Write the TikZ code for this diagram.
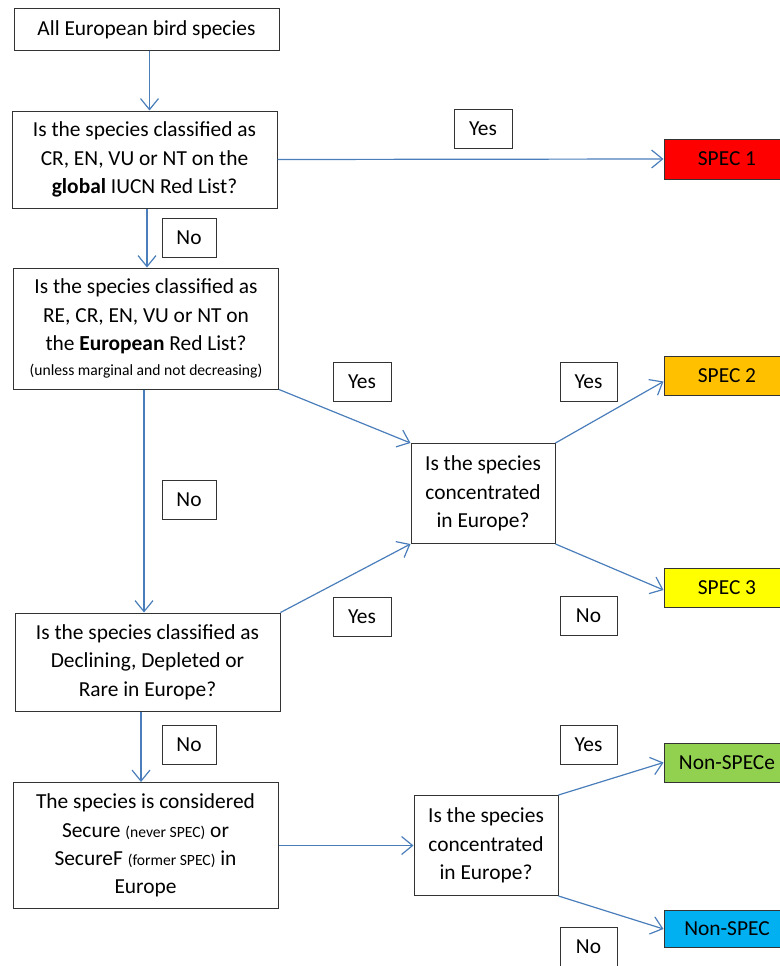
\documentclass[tikz,border=0pt]{standalone}
\usepackage{fontspec}
\setmainfont{Carlito}
\usetikzlibrary{arrows.meta,positioning}

\definecolor{flowblue}{HTML}{4A7EBB}
\definecolor{specred}{HTML}{FF0000}
\definecolor{specorange}{HTML}{FFC000}
\definecolor{specyellow}{HTML}{FFFF00}
\definecolor{specgreen}{HTML}{92D050}
\definecolor{specblue}{HTML}{00B0F0}

\newcommand{\smalltxt}[1]{{\fontsize{15.6}{20}\selectfont #1}}

\begin{document}
\begin{tikzpicture}[x=1pt, y=-1pt,
    font=\fontsize{21.4}{28.4}\selectfont,
    qbox/.style = {draw=black!80, line width=1pt, align=center, inner sep=0pt, minimum width=265pt},
    cbox/.style = {draw=black!80, line width=1pt, align=center, inner sep=0pt, minimum width=144pt, minimum height=100pt},
    tag/.style = {draw=black!80, line width=1pt, inner sep=0pt, minimum width=57pt, minimum height=39pt},
    cat/.style = {draw=black!80, line width=1pt, inner sep=0pt, minimum width=126pt, minimum height=39pt},
    flow/.style = {draw=flowblue, line width=1.2pt, -{Straight Barb[length=11pt,width=18pt]}}]

  \useasboundingbox (0,0) rectangle (779,966);

  % left column
  \node[qbox, minimum height=42pt] (all) at (146.5,29.5) {All European bird species};
  \node[qbox, minimum height=97pt] (glob) at (144.5,159.5)
    {Is the species classified as\\ CR, EN, VU or NT on the\\ \textbf{global} IUCN Red List?};
  \node[qbox, minimum height=121pt] (euro) at (146,328.5)
    {Is the species classified as\\ RE, CR, EN, VU or NT on\\ the \textbf{European} Red List?\\[-4pt]
     \smalltxt{(unless marginal and not decreasing)}};
  \node[qbox, minimum height=98pt] (decl) at (147.5,662)
    {Is the species classified as\\ Declining, Depleted or\\ Rare in Europe?};
  \node[qbox, minimum height=126pt] (secure) at (145.5,845.5)
    {The species is considered\\ Secure \smalltxt{(never SPEC)} or\\ SecureF \smalltxt{(former SPEC)} in\\ Europe};

  % concentration questions
  \node[cbox] (concA) at (483,493.5) {Is the species\\ concentrated\\ in Europe?};
  \node[cbox] (concB) at (486,845.5) {Is the species\\ concentrated\\ in Europe?};

  % categories
  \node[cat, fill=specred, minimum height=40pt] (spec1) at (727,159) {SPEC 1};
  \node[cat, fill=specorange] (spec2) at (727,375.5) {SPEC 2};
  \node[cat, fill=specyellow] (spec3) at (727,587.5) {SPEC 3};
  \node[cat, fill=specgreen] (nspece) at (727,762.5) {Non-SPECe};
  \node[cat, fill=specblue, minimum height=37pt] (nspec) at (727,929) {Non-SPEC};

  % yes / no tags
  \node[tag, minimum width=58pt] (yes1) at (483,129) {Yes};
  \node[tag, minimum width=54pt] (no1) at (189,237.5) {No};
  \node[tag, minimum width=58pt] (yes2) at (362,382) {Yes};
  \node[tag, minimum width=54pt] (no2) at (189,499.5) {No};
  \node[tag, minimum width=58pt] (yes3) at (362,617) {Yes};
  \node[tag, minimum width=54pt] (no3) at (189,744.5) {No};
  \node[tag] (yesA) at (588.5,381.5) {Yes};
  \node[tag] (noA) at (588.5,615.5) {No};
  \node[tag] (yesB) at (588.5,744.5) {Yes};
  \node[tag] (noB) at (588.5,946.5) {No};

  % connectors
  \draw[flow] ([xshift=3pt]all.south) -- ([xshift=3pt]all.south |- glob.north);
  \draw[flow] ([xshift=2.5pt]glob.south) -- ([xshift=2.5pt]glob.south |- euro.north);
  \draw[flow] ([xshift=-2pt]euro.south) -- ([xshift=-2pt]euro.south |- decl.north);
  \draw[flow] ([xshift=-6.5pt]decl.south) -- ([xshift=-6.5pt]decl.south |- secure.north);
  \draw[flow] (glob.east) -- (spec1.west);
  \draw[flow] (euro.south east) -- (concA.north west);
  \draw[flow] (decl.north east) -- (concA.south west);
  \draw[flow] (concA.north east) -- ([yshift=-6pt]spec2.west);
  \draw[flow] (concA.south east) -- ([yshift=-2.5pt]spec3.west);
  \draw[flow] (secure.east) -- (concB.west);
  \draw[flow] (concB.north east) -- (nspece.west);
  \draw[flow] (concB.south east) -- (nspec.west);
\end{tikzpicture}
\end{document}
